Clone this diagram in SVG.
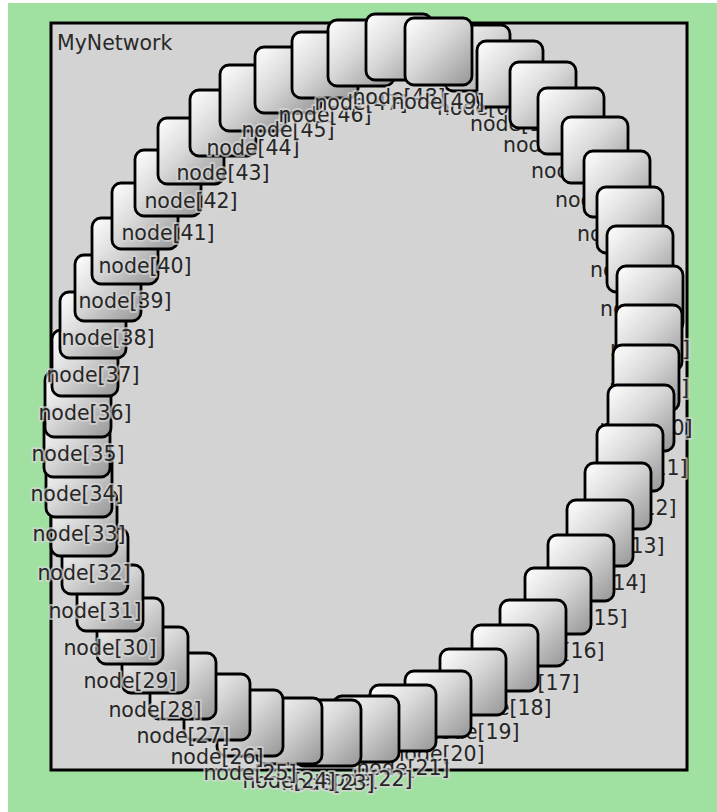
<svg xmlns="http://www.w3.org/2000/svg" width="717" height="812" viewBox="0 0 717 812">
<defs>
<linearGradient id="g" x1="0" y1="0" x2="1" y2="1">
<stop offset="0" stop-color="#ffffff"/>
<stop offset="0.45" stop-color="#d8d8d8"/>
<stop offset="1" stop-color="#959595"/>
</linearGradient>
</defs>
<style>
.box{fill:url(#g);stroke:#000;stroke-width:2.8}
.lbl{font-family:"DejaVu Sans",sans-serif;font-size:20.5px;fill:#262626;text-anchor:middle;stroke:rgba(214,214,214,0.7);stroke-width:4;stroke-linejoin:round;paint-order:stroke}
.title{font-family:"DejaVu Sans",sans-serif;font-size:20.5px;fill:#2a2a2a}
</style>
<rect x="0" y="0" width="717" height="812" fill="#ffffff"/>
<rect x="8" y="3" width="709" height="809" fill="#a0e0a0"/>
<g id="network">
<rect x="51" y="23" width="636" height="747" fill="#d3d3d3" stroke="#000" stroke-width="3"/>
<text class="title" x="57" y="50">MyNetwork</text>
</g>
<g id="node0"><rect class="box" x="444" y="25" width="66" height="66" rx="9"/><text class="lbl" x="477" y="115">node[0]</text></g>
<g id="node1"><rect class="box" x="477" y="41" width="66" height="66" rx="9"/><text class="lbl" x="510" y="131">node[1]</text></g>
<g id="node2"><rect class="box" x="510" y="62" width="66" height="66" rx="9"/><text class="lbl" x="543" y="152">node[2]</text></g>
<g id="node3"><rect class="box" x="538" y="88" width="66" height="66" rx="9"/><text class="lbl" x="571" y="178">node[3]</text></g>
<g id="node4"><rect class="box" x="562" y="117" width="66" height="66" rx="9"/><text class="lbl" x="595" y="207">node[4]</text></g>
<g id="node5"><rect class="box" x="584" y="151" width="66" height="66" rx="9"/><text class="lbl" x="617" y="241">node[5]</text></g>
<g id="node6"><rect class="box" x="597" y="187" width="66" height="66" rx="9"/><text class="lbl" x="630" y="277">node[6]</text></g>
<g id="node7"><rect class="box" x="607" y="226" width="66" height="66" rx="9"/><text class="lbl" x="640" y="316">node[7]</text></g>
<g id="node8"><rect class="box" x="617" y="266" width="66" height="66" rx="9"/><text class="lbl" x="650" y="356">node[8]</text></g>
<g id="node9"><rect class="box" x="616" y="305" width="66" height="66" rx="9"/><text class="lbl" x="649" y="395">node[9]</text></g>
<g id="node10"><rect class="box" x="613" y="345" width="66" height="66" rx="9"/><text class="lbl" x="646" y="435">node[10]</text></g>
<g id="node11"><rect class="box" x="608" y="385" width="66" height="66" rx="9"/><text class="lbl" x="641" y="475">node[11]</text></g>
<g id="node12"><rect class="box" x="597" y="425" width="66" height="66" rx="9"/><text class="lbl" x="630" y="515">node[12]</text></g>
<g id="node13"><rect class="box" x="585" y="463" width="66" height="66" rx="9"/><text class="lbl" x="618" y="553">node[13]</text></g>
<g id="node14"><rect class="box" x="567" y="500" width="66" height="66" rx="9"/><text class="lbl" x="600" y="590">node[14]</text></g>
<g id="node15"><rect class="box" x="548" y="535" width="66" height="66" rx="9"/><text class="lbl" x="581" y="625">node[15]</text></g>
<g id="node16"><rect class="box" x="525" y="568" width="66" height="66" rx="9"/><text class="lbl" x="558" y="658">node[16]</text></g>
<g id="node17"><rect class="box" x="500" y="600" width="66" height="66" rx="9"/><text class="lbl" x="533" y="690">node[17]</text></g>
<g id="node18"><rect class="box" x="472" y="625" width="66" height="66" rx="9"/><text class="lbl" x="505" y="715">node[18]</text></g>
<g id="node19"><rect class="box" x="440" y="649" width="66" height="66" rx="9"/><text class="lbl" x="473" y="739">node[19]</text></g>
<g id="node20"><rect class="box" x="405" y="671" width="66" height="66" rx="9"/><text class="lbl" x="438" y="761">node[20]</text></g>
<g id="node21"><rect class="box" x="370" y="685" width="66" height="66" rx="9"/><text class="lbl" x="403" y="775">node[21]</text></g>
<g id="node22"><rect class="box" x="333" y="696" width="66" height="66" rx="9"/><text class="lbl" x="366" y="786">node[22]</text></g>
<g id="node23"><rect class="box" x="295" y="700" width="66" height="66" rx="9"/><text class="lbl" x="328" y="790">node[23]</text></g>
<g id="node24"><rect class="box" x="256" y="698" width="66" height="66" rx="9"/><text class="lbl" x="289" y="788">node[24]</text></g>
<g id="node25"><rect class="box" x="217" y="690" width="66" height="66" rx="9"/><text class="lbl" x="250" y="780">node[25]</text></g>
<g id="node26"><rect class="box" x="184" y="674" width="66" height="66" rx="9"/><text class="lbl" x="217" y="764">node[26]</text></g>
<g id="node27"><rect class="box" x="150" y="653" width="66" height="66" rx="9"/><text class="lbl" x="183" y="743">node[27]</text></g>
<g id="node28"><rect class="box" x="122" y="627" width="66" height="66" rx="9"/><text class="lbl" x="155" y="717">node[28]</text></g>
<g id="node29"><rect class="box" x="97" y="598" width="66" height="66" rx="9"/><text class="lbl" x="130" y="688">node[29]</text></g>
<g id="node30"><rect class="box" x="77" y="565" width="66" height="66" rx="9"/><text class="lbl" x="110" y="655">node[30]</text></g>
<g id="node31"><rect class="box" x="62" y="528" width="66" height="66" rx="9"/><text class="lbl" x="95" y="618">node[31]</text></g>
<g id="node32"><rect class="box" x="51" y="490" width="66" height="66" rx="9"/><text class="lbl" x="84" y="580">node[32]</text></g>
<g id="node33"><rect class="box" x="46" y="451" width="66" height="66" rx="9"/><text class="lbl" x="79" y="541">node[33]</text></g>
<g id="node34"><rect class="box" x="44" y="411" width="66" height="66" rx="9"/><text class="lbl" x="77" y="501">node[34]</text></g>
<g id="node35"><rect class="box" x="45" y="371" width="66" height="66" rx="9"/><text class="lbl" x="78" y="461">node[35]</text></g>
<g id="node36"><rect class="box" x="52" y="330" width="66" height="66" rx="9"/><text class="lbl" x="85" y="420">node[36]</text></g>
<g id="node37"><rect class="box" x="60" y="292" width="66" height="66" rx="9"/><text class="lbl" x="93" y="382">node[37]</text></g>
<g id="node38"><rect class="box" x="75" y="255" width="66" height="66" rx="9"/><text class="lbl" x="108" y="345">node[38]</text></g>
<g id="node39"><rect class="box" x="92" y="218" width="66" height="66" rx="9"/><text class="lbl" x="125" y="308">node[39]</text></g>
<g id="node40"><rect class="box" x="112" y="183" width="66" height="66" rx="9"/><text class="lbl" x="145" y="273">node[40]</text></g>
<g id="node41"><rect class="box" x="135" y="150" width="66" height="66" rx="9"/><text class="lbl" x="168" y="240">node[41]</text></g>
<g id="node42"><rect class="box" x="158" y="118" width="66" height="66" rx="9"/><text class="lbl" x="191" y="208">node[42]</text></g>
<g id="node43"><rect class="box" x="190" y="90" width="66" height="66" rx="9"/><text class="lbl" x="223" y="180">node[43]</text></g>
<g id="node44"><rect class="box" x="220" y="65" width="66" height="66" rx="9"/><text class="lbl" x="253" y="155">node[44]</text></g>
<g id="node45"><rect class="box" x="255" y="47" width="66" height="66" rx="9"/><text class="lbl" x="288" y="137">node[45]</text></g>
<g id="node46"><rect class="box" x="292" y="32" width="66" height="66" rx="9"/><text class="lbl" x="325" y="122">node[46]</text></g>
<g id="node47"><rect class="box" x="328" y="20" width="66" height="66" rx="9"/><text class="lbl" x="361" y="110">node[47]</text></g>
<g id="node48"><rect class="box" x="366" y="14" width="66" height="66" rx="9"/><text class="lbl" x="399" y="104">node[48]</text></g>
<g id="node49"><rect class="box" x="405" y="18" width="67" height="67" rx="9"/><text class="lbl" x="438" y="109">node[49]</text></g>
</svg>
